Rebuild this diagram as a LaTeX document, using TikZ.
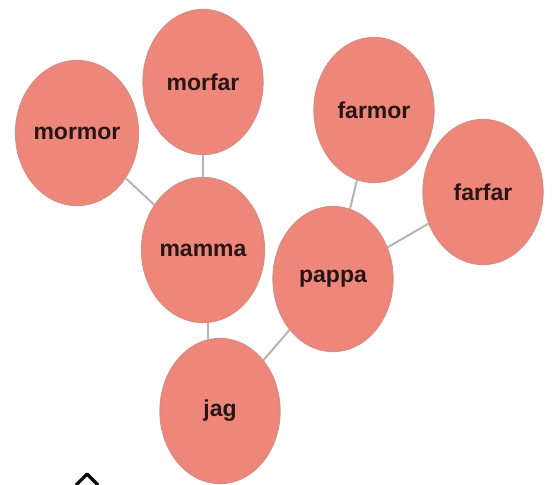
\documentclass[tikz,border=0pt]{standalone}
\usepackage{fontspec}
\setmainfont{Liberation Sans}
\usetikzlibrary{shapes.geometric}
\definecolor{bubble}{RGB}{239,134,122}
\definecolor{bubbleedge}{RGB}{215,140,132}
\definecolor{linkgray}{RGB}{185,178,178}
\definecolor{txt}{RGB}{40,22,22}
\tikzset{
  person/.style={ellipse, fill=bubble, draw=bubbleedge, line width=0.6pt,
    minimum width=60pt, minimum height=72.5pt, inner sep=0pt,
    font=\bfseries\fontsize{11.5}{12}\selectfont, text=txt},
  link/.style={draw=linkgray, line width=1pt}
}
\begin{document}
\begin{tikzpicture}[x=0.5pt,y=-0.5pt]
\useasboundingbox (0,0) rectangle (552,484);
\node[person] (mormor) at (77,133) {mormor};
\node[person] (morfar) at (203,82) {morfar};
\node[person] (farmor) at (374,110) {farmor};
\node[person] (farfar) at (483,192) {farfar};
\node[person] (mamma) at (203,250) {mamma};
\node[person] (pappa) at (333,279) {pappa};
\node[person] (jag) at (220,411) {jag};
\draw[link] (mormor) -- (mamma);
\draw[link] (morfar.south) -- (mamma.north);
\draw[link] (farmor) -- (pappa);
\draw[link] (farfar) -- (pappa);
\draw[link] ([xshift=2.5pt]mamma.south) -- ([xshift=2.5pt,yshift=-1pt]mamma.south |- jag.north);
\draw[link] (pappa) -- (jag);
\coordinate (c1) at (76,485);
\coordinate (c2) at (87,474);
\coordinate (c3) at (98,485);
\draw[black, line width=1.6pt, line join=round] (c1) -- (c2) -- (c3);
\end{tikzpicture}
\end{document}
